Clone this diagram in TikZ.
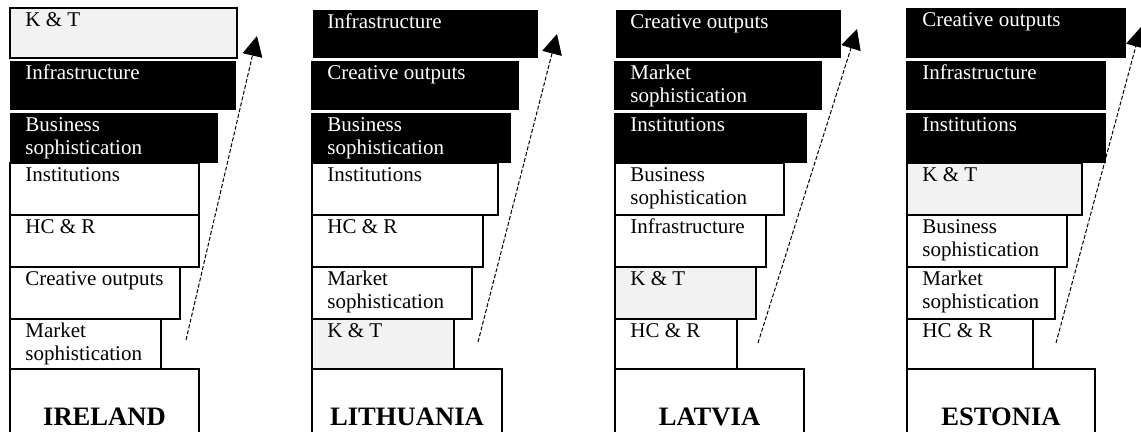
\documentclass[tikz,border=0pt]{standalone}
\usepackage{fontspec}
\setmainfont{Liberation Serif}
\usetikzlibrary{arrows.meta}
\definecolor{ktgray}{HTML}{F2F2F2}
\tikzset{
  wbox/.style={draw=black,line width=0.65pt,fill=white},
  gbox/.style={draw=black,line width=0.65pt,fill=ktgray},
  bbox/.style={fill=black},
  lbl/.style={anchor=base west,inner sep=0pt,align=left,
    font=\fontsize{10.5}{11.5}\selectfont},
  wlbl/.style={lbl,text=white},
  cname/.style={anchor=base,inner sep=0pt,font=\fontsize{13.3}{15}\selectfont\bfseries},
  trend/.style={dash pattern=on 2pt off 1pt,line width=0.5pt,
    -{Triangle[length=10pt,width=10pt]}}
}
\begin{document}
\begin{tikzpicture}[x=0.5pt,y=-0.5pt]
  \useasboundingbox (0,0) rectangle (1141,432);
  % Ireland (two-line labels sit on their last baseline)
  \draw[gbox] (10,8) rectangle (237,58);     \node[lbl] (irl1) at (25,27) {K \& T};
  \fill[bbox] (10,61) rectangle (236,110);   \node[wlbl] (irl2) at (25,80) {Infrastructure};
  \fill[bbox] (10,113) rectangle (218,163);  \node[wlbl] (irl3) at (25,155) {Business\\sophistication};
  \draw[wbox] (10,163) rectangle (199,215);  \node[lbl] (irl4) at (25,182) {Institutions};
  \draw[wbox] (10,215) rectangle (199,267);  \node[lbl] (irl5) at (25,234) {HC \& R};
  \draw[wbox] (10,267) rectangle (180,319);  \node[lbl] (irl6) at (25,286) {Creative outputs};
  \draw[wbox] (10,319) rectangle (161,369);  \node[lbl] (irl7) at (25,361) {Market\\sophistication};
  \draw[wbox] (10,369) rectangle (199,450);  \node[cname] (irl) at (104.5,426) {IRELAND};
  \coordinate (irl-s) at (186,340); \coordinate (irl-e) at (257,36);
  \draw[trend] (irl-s) -- (irl-e);
  % Lithuania
  \fill[bbox] (313,10) rectangle (538,58);   \node[wlbl] (ltu1) at (327,29) {Infrastructure};
  \fill[bbox] (311,61) rectangle (519,110);  \node[wlbl] (ltu2) at (327,80) {Creative outputs};
  \fill[bbox] (311,113) rectangle (511,163); \node[wlbl] (ltu3) at (327,155) {Business\\sophistication};
  \draw[wbox] (312,163) rectangle (498,215); \node[lbl] (ltu4) at (327,182) {Institutions};
  \draw[wbox] (312,215) rectangle (483,267); \node[lbl] (ltu5) at (327,234) {HC \& R};
  \draw[wbox] (312,267) rectangle (472,319); \node[lbl] (ltu6) at (327,309) {Market\\sophistication};
  \draw[gbox] (312,319) rectangle (454,369); \node[lbl] (ltu7) at (327,338) {K \& T};
  \draw[wbox] (312,369) rectangle (502,450); \node[cname] (ltu) at (407,426) {LITHUANIA};
  \coordinate (ltu-s) at (478,342); \coordinate (ltu-e) at (557,34);
  \draw[trend] (ltu-s) -- (ltu-e);
  % Latvia
  \fill[bbox] (616,10) rectangle (841,58);   \node[wlbl] (lva1) at (630,29) {Creative outputs};
  \fill[bbox] (614,61) rectangle (822,110);  \node[wlbl] (lva2) at (630,103) {Market\\sophistication};
  \fill[bbox] (614,113) rectangle (807,163); \node[wlbl] (lva3) at (630,132) {Institutions};
  \draw[wbox] (615,163) rectangle (784,215); \node[lbl] (lva4) at (630,205) {Business\\sophistication};
  \draw[wbox] (615,215) rectangle (766,267); \node[lbl] (lva5) at (630,234) {Infrastructure};
  \draw[gbox] (615,267) rectangle (756,319); \node[lbl] (lva6) at (630,286) {K \& T};
  \draw[wbox] (615,319) rectangle (737,369); \node[lbl] (lva7) at (630,338) {HC \& R};
  \draw[wbox] (615,369) rectangle (804,450); \node[cname] (lva) at (709.5,426) {LATVIA};
  \coordinate (lva-s) at (758,343); \coordinate (lva-e) at (857,29);
  \draw[trend] (lva-s) -- (lva-e);
  % Estonia
  \fill[bbox] (906,8) rectangle (1126,58);    \node[wlbl] (est1) at (922,27) {Creative outputs};
  \fill[bbox] (906,61) rectangle (1106,110);  \node[wlbl] (est2) at (922,80) {Infrastructure};
  \fill[bbox] (906,113) rectangle (1106,163); \node[wlbl] (est3) at (922,132) {Institutions};
  \draw[gbox] (907,163) rectangle (1082,215); \node[lbl] (est4) at (922,182) {K \& T};
  \draw[wbox] (907,215) rectangle (1067,267); \node[lbl] (est5) at (922,257) {Business\\sophistication};
  \draw[wbox] (907,267) rectangle (1055,319); \node[lbl] (est6) at (922,309) {Market\\sophistication};
  \draw[wbox] (907,319) rectangle (1033,369); \node[lbl] (est7) at (922,338) {HC \& R};
  \draw[wbox] (907,369) rectangle (1095,450); \node[cname] (est) at (1001,426) {ESTONIA};
  \coordinate (est-s) at (1056,343); \coordinate (est-e) at (1141,27);
  \draw[trend] (est-s) -- (est-e);
\end{tikzpicture}
\end{document}
